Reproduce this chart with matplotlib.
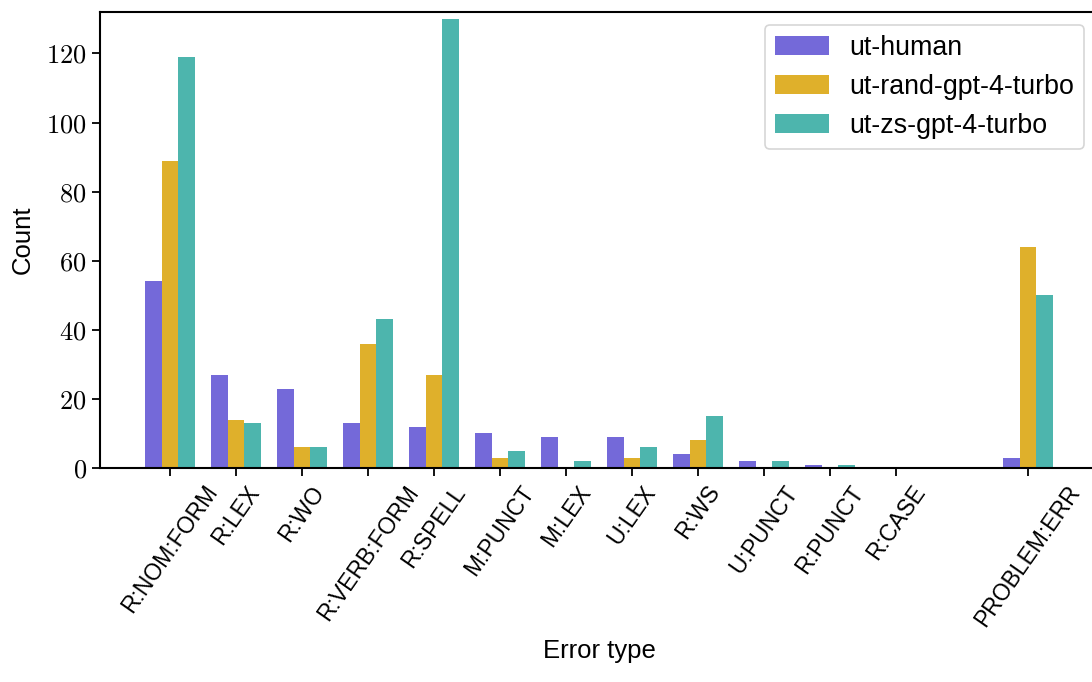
import numpy as np
import matplotlib
matplotlib.use("Agg")
import matplotlib.pyplot as plt

categories = ["R:NOM:FORM", "R:LEX", "R:WO", "R:VERB:FORM", "R:SPELL", "M:PUNCT",
              "M:LEX", "U:LEX", "R:WS", "U:PUNCT", "R:PUNCT", "R:CASE", "PROBLEM:ERR"]
positions = [0, 1, 2, 3, 4, 5, 6, 7, 8, 9, 10, 11, 13]

series_names = ["ut-human", "ut-rand-gpt-4-turbo", "ut-zs-gpt-4-turbo"]
ut_human = [54, 27, 23, 13, 12, 10, 9, 9, 4, 2, 1, 0, 3]
ut_rand = [89, 14, 6, 36, 27, 3, 0, 3, 8, 0, 0, 0, 64]
ut_zs = [119, 13, 6, 43, 130, 5, 2, 6, 15, 2, 1, 0, 50]

colors = ["#7469D9", "#DFB02B", "#4DB5AD"]

plt.rcParams["font.family"] = ["Liberation Sans", "DejaVu Sans"]
plt.rcParams["mathtext.fontset"] = "cm"

fig = plt.figure(figsize=(10.92, 6.82), dpi=100)
ax = fig.add_axes([100 / 1092, (682 - 468) / 682, 998 / 1092, 456 / 682])

x = np.array(positions, dtype=float)
w = 0.25
for i, (vals, name) in enumerate(zip([ut_human, ut_rand, ut_zs], series_names)):
    ax.bar(x + (i - 1) * w, vals, width=w, color=colors[i], label=name)

ax.set_xlim(-1.0625, 14.0625)
ax.set_ylim(0, 132)
ax.set_xticks(x)
ax.set_xticklabels(categories, rotation=55, fontsize=16.5)
yt = [0, 20, 40, 60, 80, 100, 120]
ax.set_yticks(yt)
ax.set_yticklabels([f"${v}$" for v in yt], fontsize=19)

for s in ax.spines.values():
    s.set_linewidth(1.5)
ax.tick_params(width=1.3, length=6)

ax.set_xlabel("Error type", fontsize=18.5, labelpad=6)
ax.set_ylabel("Count", fontsize=18.5, labelpad=8)

leg = ax.legend(loc="upper right", fontsize=19.3, handlelength=2.0, borderpad=0.38,
                labelspacing=0.48, handletextpad=0.75, borderaxespad=0,
                bbox_to_anchor=((1084 - 100) / 998, (468 - 25) / 456))
leg.get_frame().set_linewidth(1.2)

fig.savefig("out.png", dpi=100)
